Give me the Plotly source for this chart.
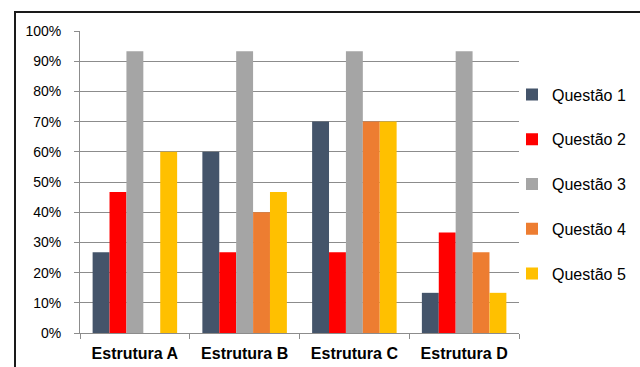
import plotly.graph_objects as go

categories = ["Estrutura A", "Estrutura B", "Estrutura C", "Estrutura D"]
series_names = ["Questão 1", "Questão 2", "Questão 3", "Questão 4", "Questão 5"]
q1 = [0.267, 0.600, 0.700, 0.133]
q2 = [0.467, 0.267, 0.267, 0.333]
q3 = [0.933, 0.933, 0.933, 0.933]
q4 = [0.0, 0.400, 0.700, 0.267]
q5 = [0.600, 0.467, 0.700, 0.133]
series_values = [q1, q2, q3, q4, q5]
colors = ["#44546A", "#FF0000", "#A5A5A5", "#ED7D31", "#FFC000"]

fig = go.Figure()
for i, (name, vals, c) in enumerate(zip(series_names, series_values, colors)):
    fig.add_trace(go.Bar(
        x=categories, y=vals, name=name, legendgroup=name,
        marker=dict(color=c, line=dict(width=0)),
    ))

L, R, T, B = 80, 519, 31, 333
W, H = 640, 367
pw, ph = R - L, B - T

def px(x):
    return (x - L) / pw

def py(y):
    return (B - y) / ph

fig.update_layout(
    width=W, height=H,
    margin=dict(l=L, r=W - R, t=T, b=H - B, pad=0, autoexpand=False),
    paper_bgcolor="white", plot_bgcolor="white",
    barmode="group", bargap=0.23, bargroupgap=0,
    font=dict(family="Liberation Sans", color="#000000"),
    showlegend=True,
    legend=dict(
        x=px(512), xanchor="left", y=py(184), yanchor="middle",
        font=dict(size=16, family="Liberation Sans", color="#000000"),
        traceorder="grouped", tracegroupgap=21,
        itemwidth=30, bgcolor="rgba(0,0,0,0)",
    ),
    xaxis=dict(
        automargin=False,
        showline=True, linecolor="#8C8C8C", linewidth=1,
        ticks="outside", tickson="boundaries", ticklen=5, tickcolor="#8C8C8C",
        tickfont=dict(size=16, family="Liberation Sans", weight="bold"),
        ticklabelstandoff=6,
        showgrid=False,
    ),
    yaxis=dict(
        automargin=False,
        range=[0, 1], dtick=0.1, tickformat=".0%",
        showline=True, linecolor="#8C8C8C", linewidth=1,
        ticks="outside", ticklen=5, tickcolor="#8C8C8C",
        showgrid=True, gridcolor="#8C8C8C", gridwidth=1,
        zeroline=False,
        tickfont=dict(size=14, family="Liberation Sans"),
        ticklabelstandoff=10,
    ),
    shapes=[dict(
        type="rect", xref="paper", yref="paper",
        x0=px(15), x1=px(660), y0=py(390), y1=py(12),
        line=dict(color="#1A1A1A", width=2), fillcolor="rgba(0,0,0,0)",
        layer="above",
    )],
)

fig.write_html("out.html")
